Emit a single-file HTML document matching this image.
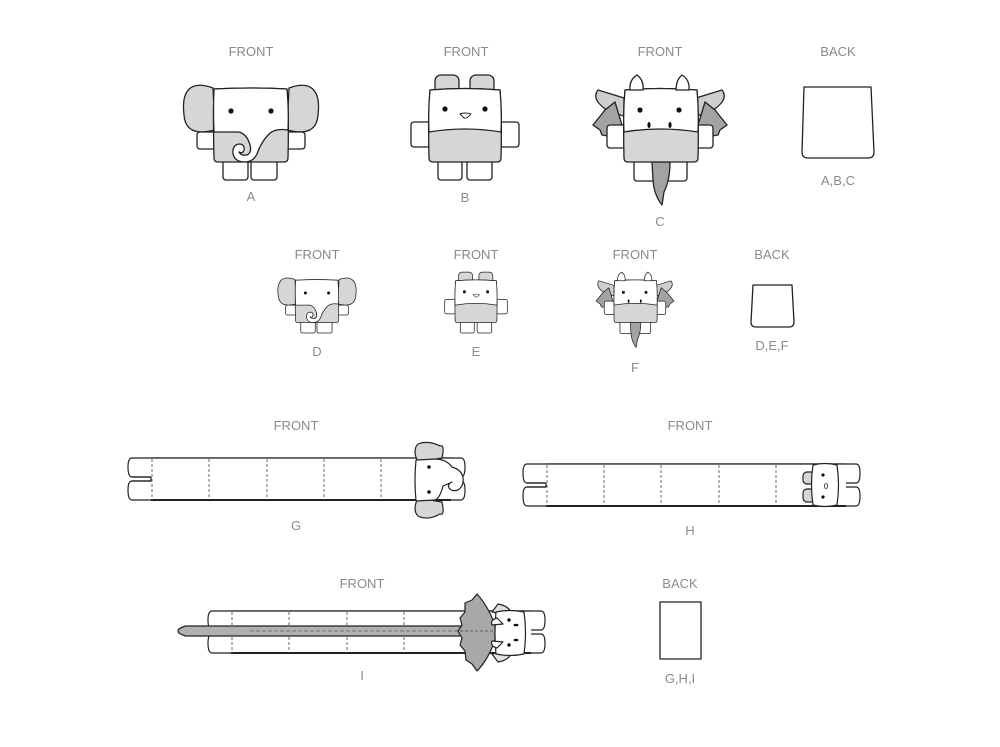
<!DOCTYPE html>
<html><head><meta charset="utf-8"><style>
html,body{margin:0;padding:0;background:#fff;}
svg{display:block;}
text{font-family:"Liberation Sans",sans-serif;font-size:13px;fill:#8a8a8a;}
</style></head><body>
<svg width="1000" height="747" viewBox="0 0 1000 747" xmlns="http://www.w3.org/2000/svg" stroke-linejoin="round">
<defs>
<g id="ele" stroke="#222" stroke-width="1.3">
  <rect x="-54" y="2" width="20" height="17" rx="3" fill="#fff"/>
  <rect x="34" y="2" width="20" height="17" rx="3" fill="#fff"/>
  <path d="M-38,-42 C-60,-50 -70,-40 -67,-15 C-66,0 -56,5 -36,0 Z" fill="#d6d6d6"/>
  <path d="M38,-42 C60,-50 70,-40 67,-15 C66,0 56,5 36,0 Z" fill="#d6d6d6"/>
  <rect x="-28" y="30" width="25" height="20" rx="3" fill="#fff"/>
  <rect x="0" y="30" width="26" height="20" rx="3" fill="#fff"/>
  <path d="M-37,-41 Q0,-43 36,-41 Q38,-10 37,28 Q37,32 33,32 L-33,32 Q-37,32 -37,28 Q-38,-10 -37,-41 Z" fill="#d6d6d6"/>
  <path d="M-37,-41 Q0,-43 36,-41 Q38,-20 37,0 Q24,-2 18,4 Q10,12 6,24 Q2,32 -6,32 Q-16,32 -18,24 Q-19,15 -12,14 Q-6,14 -7,20 Q-8,24 -12,22 Q-10,26 -4,25 Q2,22 -2,12 Q-5,4 -12,2 L-37,2 Q-38,-20 -37,-41 Z" fill="#fff"/>
  <circle cx="-20" cy="-19" r="2.6" fill="#111" stroke="none"/>
  <circle cx="20" cy="-19" r="2.6" fill="#111" stroke="none"/>
</g>
<g id="bun" stroke="#222" stroke-width="1.3">
  <rect x="-30" y="-55" width="24" height="22" rx="6" fill="#d6d6d6"/>
  <rect x="5" y="-55" width="24" height="22" rx="6" fill="#d6d6d6"/>
  <rect x="-54" y="-8" width="19" height="25" rx="3" fill="#fff"/>
  <rect x="35" y="-8" width="19" height="25" rx="3" fill="#fff"/>
  <rect x="-27" y="30" width="24" height="20" rx="3" fill="#fff"/>
  <rect x="2" y="30" width="25" height="20" rx="3" fill="#fff"/>
  <path d="M-35,-40 Q0,-43 35,-40 Q37,-10 36,28 Q36,32 32,32 L-32,32 Q-36,32 -36,28 Q-37,-10 -35,-40 Z" fill="#d6d6d6"/>
  <path d="M-35,-40 Q0,-43 35,-40 Q37,-20 36,2 Q0,-4 -36,2 Q-37,-20 -35,-40 Z" fill="#fff"/>
  <circle cx="-20" cy="-21" r="2.6" fill="#111" stroke="none"/>
  <circle cx="20" cy="-21" r="2.6" fill="#111" stroke="none"/>
  <path d="M-5,-16 Q0,-18 6,-16 Q2,-11 -1,-12 Z" fill="#fff" stroke-width="1"/>
</g>
<g id="dra" stroke="#222" stroke-width="1.3">
  <path d="M-36,-32 L-62,-40 Q-70,-30 -50,-18 L-36,-14 Z" fill="#cfcfcf"/>
  <path d="M36,-32 L62,-40 Q70,-30 50,-18 L36,-14 Z" fill="#cfcfcf"/>
  <path d="M-45,-28 L-55,-20 L-67,-5 L-60,0 L-58,5 L-52,6 L-48,15 L-35,5 Z" fill="#a3a3a3"/>
  <path d="M45,-28 L55,-20 L67,-5 L60,0 L58,5 L52,6 L48,15 L35,5 Z" fill="#a3a3a3"/>
  <rect x="-53" y="-5" width="19" height="23" rx="3" fill="#fff"/>
  <rect x="34" y="-5" width="19" height="23" rx="3" fill="#fff"/>
  <rect x="-26" y="30" width="24" height="21" rx="3" fill="#fff"/>
  <rect x="3" y="30" width="24" height="21" rx="3" fill="#fff"/>
  <path d="M-8,32 L10,32 Q10,50 4,62 L2,75 Q-6,65 -7,50 Z" fill="#a3a3a3"/>
  <path d="M-35,-40 Q0,-43 37,-40 Q39,-10 38,28 Q38,32 34,32 L-32,32 Q-36,32 -36,28 Q-37,-10 -35,-40 Z" fill="#d6d6d6"/>
  <path d="M-35,-40 Q0,-43 37,-40 Q39,-20 38,2 Q0,-4 -36,2 Q-37,-20 -35,-40 Z" fill="#fff"/>
  <path d="M-30,-40 Q-31,-50 -23,-55 Q-16,-50 -17,-40 Z" fill="#fff"/>
  <path d="M16,-40 Q16,-50 22,-55 Q30,-50 29,-40 Z" fill="#fff"/>
  <circle cx="-20" cy="-20" r="2.6" fill="#111" stroke="none"/>
  <circle cx="19" cy="-20" r="2.6" fill="#111" stroke="none"/>
  <ellipse cx="-11" cy="-5" rx="1.6" ry="3" fill="#111" stroke="none"/>
  <ellipse cx="10" cy="-5" rx="1.6" ry="3" fill="#111" stroke="none"/>
</g>
<g id="tubes" stroke="#222" stroke-width="1.2" fill="#fff">
  <path d="M5,0 L334,0 Q338,0 338,9 Q338,19 334,19 L5,19 Q1,19 1,9 Q1,0 5,0 Z"/>
  <path d="M5,23 L334,23 Q338,23 338,32 Q338,42 334,42 L5,42 Q1,42 1,32 Q1,23 5,23 Z"/>
  <rect x="24" y="0" width="300" height="42" stroke="none"/>
  <line x1="24" y1="0" x2="324" y2="0"/>
  <line x1="24" y1="42" x2="324" y2="42" stroke-width="2"/>
  <path d="M24,19 L5,19 M24,23 L5,23 M24,19 L24,23" />
</g>
</defs>

<text x="251" y="56" text-anchor="middle">FRONT</text>
<text x="466" y="56" text-anchor="middle">FRONT</text>
<text x="660" y="56" text-anchor="middle">FRONT</text>
<text x="838" y="56" text-anchor="middle">BACK</text>
<text x="251" y="201" text-anchor="middle">A</text>
<text x="465" y="202" text-anchor="middle">B</text>
<text x="660" y="226" text-anchor="middle">C</text>
<text x="838" y="185" text-anchor="middle">A,B,C</text>

<use href="#ele" transform="translate(251,130)"/>
<use href="#bun" transform="translate(465,130)"/>
<use href="#dra" transform="translate(660,130)"/>
<path d="M804,87 L871,87 L874,152 Q874,158 868,158 L808,158 Q802,158 802,152 Z" fill="#fff" stroke="#222" stroke-width="1.3"/>

<text x="317" y="259" text-anchor="middle">FRONT</text>
<text x="476" y="259" text-anchor="middle">FRONT</text>
<text x="635" y="259" text-anchor="middle">FRONT</text>
<text x="772" y="259" text-anchor="middle">BACK</text>
<text x="317" y="356" text-anchor="middle">D</text>
<text x="476" y="356" text-anchor="middle">E</text>
<text x="635" y="372" text-anchor="middle">F</text>
<text x="772" y="350" text-anchor="middle">D,E,F</text>
<use href="#ele" transform="translate(317,304) scale(0.58)"/>
<use href="#bun" transform="translate(476,304) scale(0.58)"/>
<use href="#dra" transform="translate(635,304) scale(0.58)"/>
<path d="M753,285 L792,285 L794,322 Q794,327 789,327 L756,327 Q751,327 751,322 Z" fill="#fff" stroke="#222" stroke-width="1.3"/>

<text x="296" y="430" text-anchor="middle">FRONT</text>
<text x="296" y="530" text-anchor="middle">G</text>
<use href="#tubes" transform="translate(127,458)"/>
<g stroke="#444" stroke-width="0.8" stroke-dasharray="3,2">
  <line x1="152" y1="459" x2="152" y2="500"/><line x1="209" y1="459" x2="209" y2="500"/>
  <line x1="267" y1="459" x2="267" y2="500"/><line x1="324" y1="459" x2="324" y2="500"/><line x1="381" y1="459" x2="381" y2="500"/>
</g>
<g stroke="#222" stroke-width="1.2">
  <path d="M418,462 Q412,450 418,444 Q428,440 440,446 Q445,444 442,458 Z" fill="#d6d6d6"/>
  <path d="M418,498 Q412,510 418,516 Q428,521 440,514 Q445,516 442,502 Z" fill="#d6d6d6"/>
  <path d="M416,460 L437,459 Q447,460 452,467 Q462,470 463,478 Q464,486 458,490 Q452,492 449,488 Q447,484 452,482 Q448,484 443,486 Q440,498 435,500 L416,501 Q414,480 416,460 Z" fill="#fff"/>
  <circle cx="429" cy="467" r="1.8" fill="#111" stroke="none"/>
  <circle cx="429" cy="492" r="1.8" fill="#111" stroke="none"/>
</g>

<text x="690" y="430" text-anchor="middle">FRONT</text>
<text x="690" y="535" text-anchor="middle">H</text>
<use href="#tubes" transform="translate(522,464)"/>
<g stroke="#444" stroke-width="0.8" stroke-dasharray="3,2">
  <line x1="547" y1="465" x2="547" y2="506"/><line x1="604" y1="465" x2="604" y2="506"/>
  <line x1="661" y1="465" x2="661" y2="506"/><line x1="719" y1="465" x2="719" y2="506"/><line x1="776" y1="465" x2="776" y2="506"/>
</g>
<g stroke="#222" stroke-width="1.2">
  <rect x="803" y="472" width="12" height="12" rx="4" fill="#d6d6d6"/>
  <rect x="803" y="489" width="12" height="13" rx="4" fill="#d6d6d6"/>
  <path d="M813,465 Q825,462 837,465 Q840,485 837,505 Q825,508 813,505 Q810,485 813,465 Z" fill="#fff"/>
  <circle cx="823" cy="475" r="1.6" fill="#111" stroke="none"/>
  <circle cx="823" cy="497" r="1.6" fill="#111" stroke="none"/>
  <ellipse cx="826" cy="486" rx="1.5" ry="2.5" fill="#fff" stroke-width="0.8"/>
</g>

<text x="362" y="588" text-anchor="middle">FRONT</text>
<text x="362" y="680" text-anchor="middle">I</text>
<use href="#tubes" transform="translate(207,611)"/>
<g stroke="#444" stroke-width="0.8" stroke-dasharray="3,2">
  <line x1="232" y1="612" x2="232" y2="653"/><line x1="289" y1="612" x2="289" y2="653"/>
  <line x1="347" y1="612" x2="347" y2="653"/><line x1="404" y1="612" x2="404" y2="653"/>
</g>
<g stroke="#222" stroke-width="1.2">
  <path d="M498,604 Q510,606 512,615 L503,622 Q498,612 492,612 Z" fill="#e2e2e2"/>
  <path d="M498,662 Q510,660 512,651 L503,644 Q498,654 492,654 Z" fill="#e2e2e2"/>
  <path d="M490,626 L186,626 Q178,628 178,631 Q178,634 186,636 L490,636 Z" fill="#b0b0b0"/>
  <line x1="250" y1="631" x2="490" y2="631" stroke="#666" stroke-width="0.8" stroke-dasharray="4,2"/>
  <path d="M477,594 Q488,606 495,625 L495,640 Q488,660 477,671 L472,664 L466,660 L465,651 L460,645 L462,638 L458,631 L462,625 L460,618 L465,612 L465,603 L472,600 Z" fill="#a8a8a8"/>
  <line x1="460" y1="631" x2="495" y2="631" stroke="#444" stroke-width="0.8" stroke-dasharray="3,2"/>
  <path d="M496,612 Q510,609 524,612 Q527,633 524,654 Q510,657 496,654 Q494,633 496,612 Z" fill="#fff"/>
  <path d="M497,618 Q490,620 492,625 L503,624 Z" fill="#fff"/>
  <path d="M497,648 Q490,646 492,641 L503,642 Z" fill="#fff"/>
  <circle cx="509" cy="620" r="1.7" fill="#111" stroke="none"/>
  <circle cx="509" cy="645" r="1.7" fill="#111" stroke="none"/>
  <ellipse cx="516" cy="625" rx="2.5" ry="1.3" fill="#111" stroke="none"/>
  <ellipse cx="516" cy="640" rx="2.5" ry="1.3" fill="#111" stroke="none"/>
</g>

<text x="680" y="588" text-anchor="middle">BACK</text>
<rect x="660" y="602" width="41" height="57" fill="#fff" stroke="#222" stroke-width="1.3"/>
<text x="680" y="683" text-anchor="middle">G,H,I</text>
</svg>
</body></html>
